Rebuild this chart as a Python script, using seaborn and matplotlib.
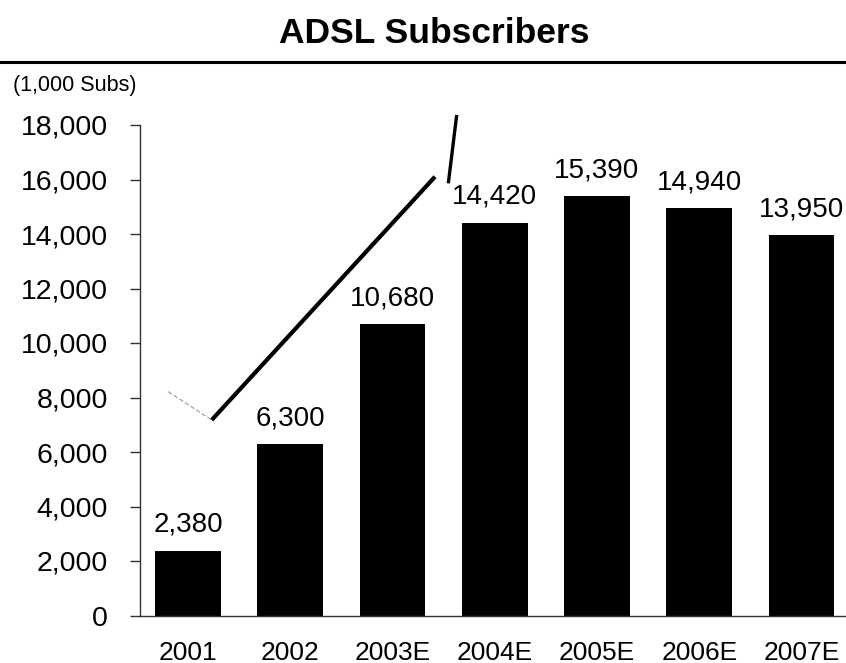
import matplotlib
matplotlib.use("Agg")
import matplotlib.pyplot as plt
import seaborn as sns
import pandas as pd
from matplotlib.lines import Line2D

# Data
years = ["2001", "2002", "2003E", "2004E", "2005E", "2006E", "2007E"]
subscribers = [2380, 6300, 10680, 14420, 15390, 14940, 13950]
y_ticks = [0, 2000, 4000, 6000, 8000, 10000, 12000, 14000, 16000, 18000]

# Hand-drawn trend strokes (data units: category index, subscribers)
trend_x = [0.232, 2.416]
trend_y = [7174, 16103]
tail_x = [2.546, 2.628]
tail_y = [15860, 18367]
faint_x = [-0.193, 0.232]
faint_y = [8213, 7174]

sns.set_theme(style="ticks")
plt.rcParams["font.family"] = ["Liberation Sans", "DejaVu Sans"]
plt.rcParams["text.color"] = "black"
plt.rcParams["xtick.labelcolor"] = "black"
plt.rcParams["ytick.labelcolor"] = "black"

df = pd.DataFrame({"year": years, "subs": subscribers})

fig = plt.figure(figsize=(8.46, 6.63), dpi=100)
ax = fig.add_axes([140 / 846, 47.5 / 663, 706 / 846, 490.5 / 663])

sns.barplot(data=df, x="year", y="subs", color="black", saturation=1,
            width=0.645, ax=ax, edgecolor="black", linewidth=0)

ax.set_xlim(-0.469, 6.435)
ax.set_ylim(0, 18000)
ax.set_yticks(y_ticks)
ax.set_yticklabels([f"{v:,}" for v in y_ticks], fontsize=20.5, color="black")
ax.set_xticks(range(len(years)))
ax.set_xticklabels(years, fontsize=19, color="black")
ax.set_xlabel("")
ax.set_ylabel("")

ax.tick_params(axis="y", length=7, width=1, pad=16, color="#333333")
ax.tick_params(axis="x", length=0, pad=18)

for side in ("top", "right"):
    ax.spines[side].set_visible(False)
for side in ("left", "bottom"):
    ax.spines[side].set_color("#333333")
    ax.spines[side].set_linewidth(1.0)

# Value labels above each bar
for i, v in enumerate(subscribers):
    ax.annotate(f"{v:,}", xy=(i, v), xytext=(0, 13.5), textcoords="offset points",
                ha="center", va="baseline", fontsize=20, color="black")

# Trend strokes
ax.plot(trend_x, trend_y, color="black", lw=3.0, solid_capstyle="butt", clip_on=False)
ax.plot(tail_x, tail_y, color="black", lw=2.4, solid_capstyle="butt", clip_on=False)
ax.plot(faint_x, faint_y, color="#9a9a9a", lw=0.8, ls=(0, (4, 2)), clip_on=False)

# Title, rule and unit label
fig.text(0.513, 0.95, "ADSL Subscribers", ha="center", va="center",
         fontsize=25.5, fontweight="bold", color="black")
fig.add_artist(Line2D([0, 1], [1 - 62 / 663, 1 - 62 / 663], color="black",
                      lw=2.2, transform=fig.transFigure))
fig.text(13 / 846, 1 - 86 / 663, "(1,000 Subs)", ha="left", va="center",
         fontsize=15.5, color="black")

fig.savefig("out.png", dpi=100, facecolor="white")
